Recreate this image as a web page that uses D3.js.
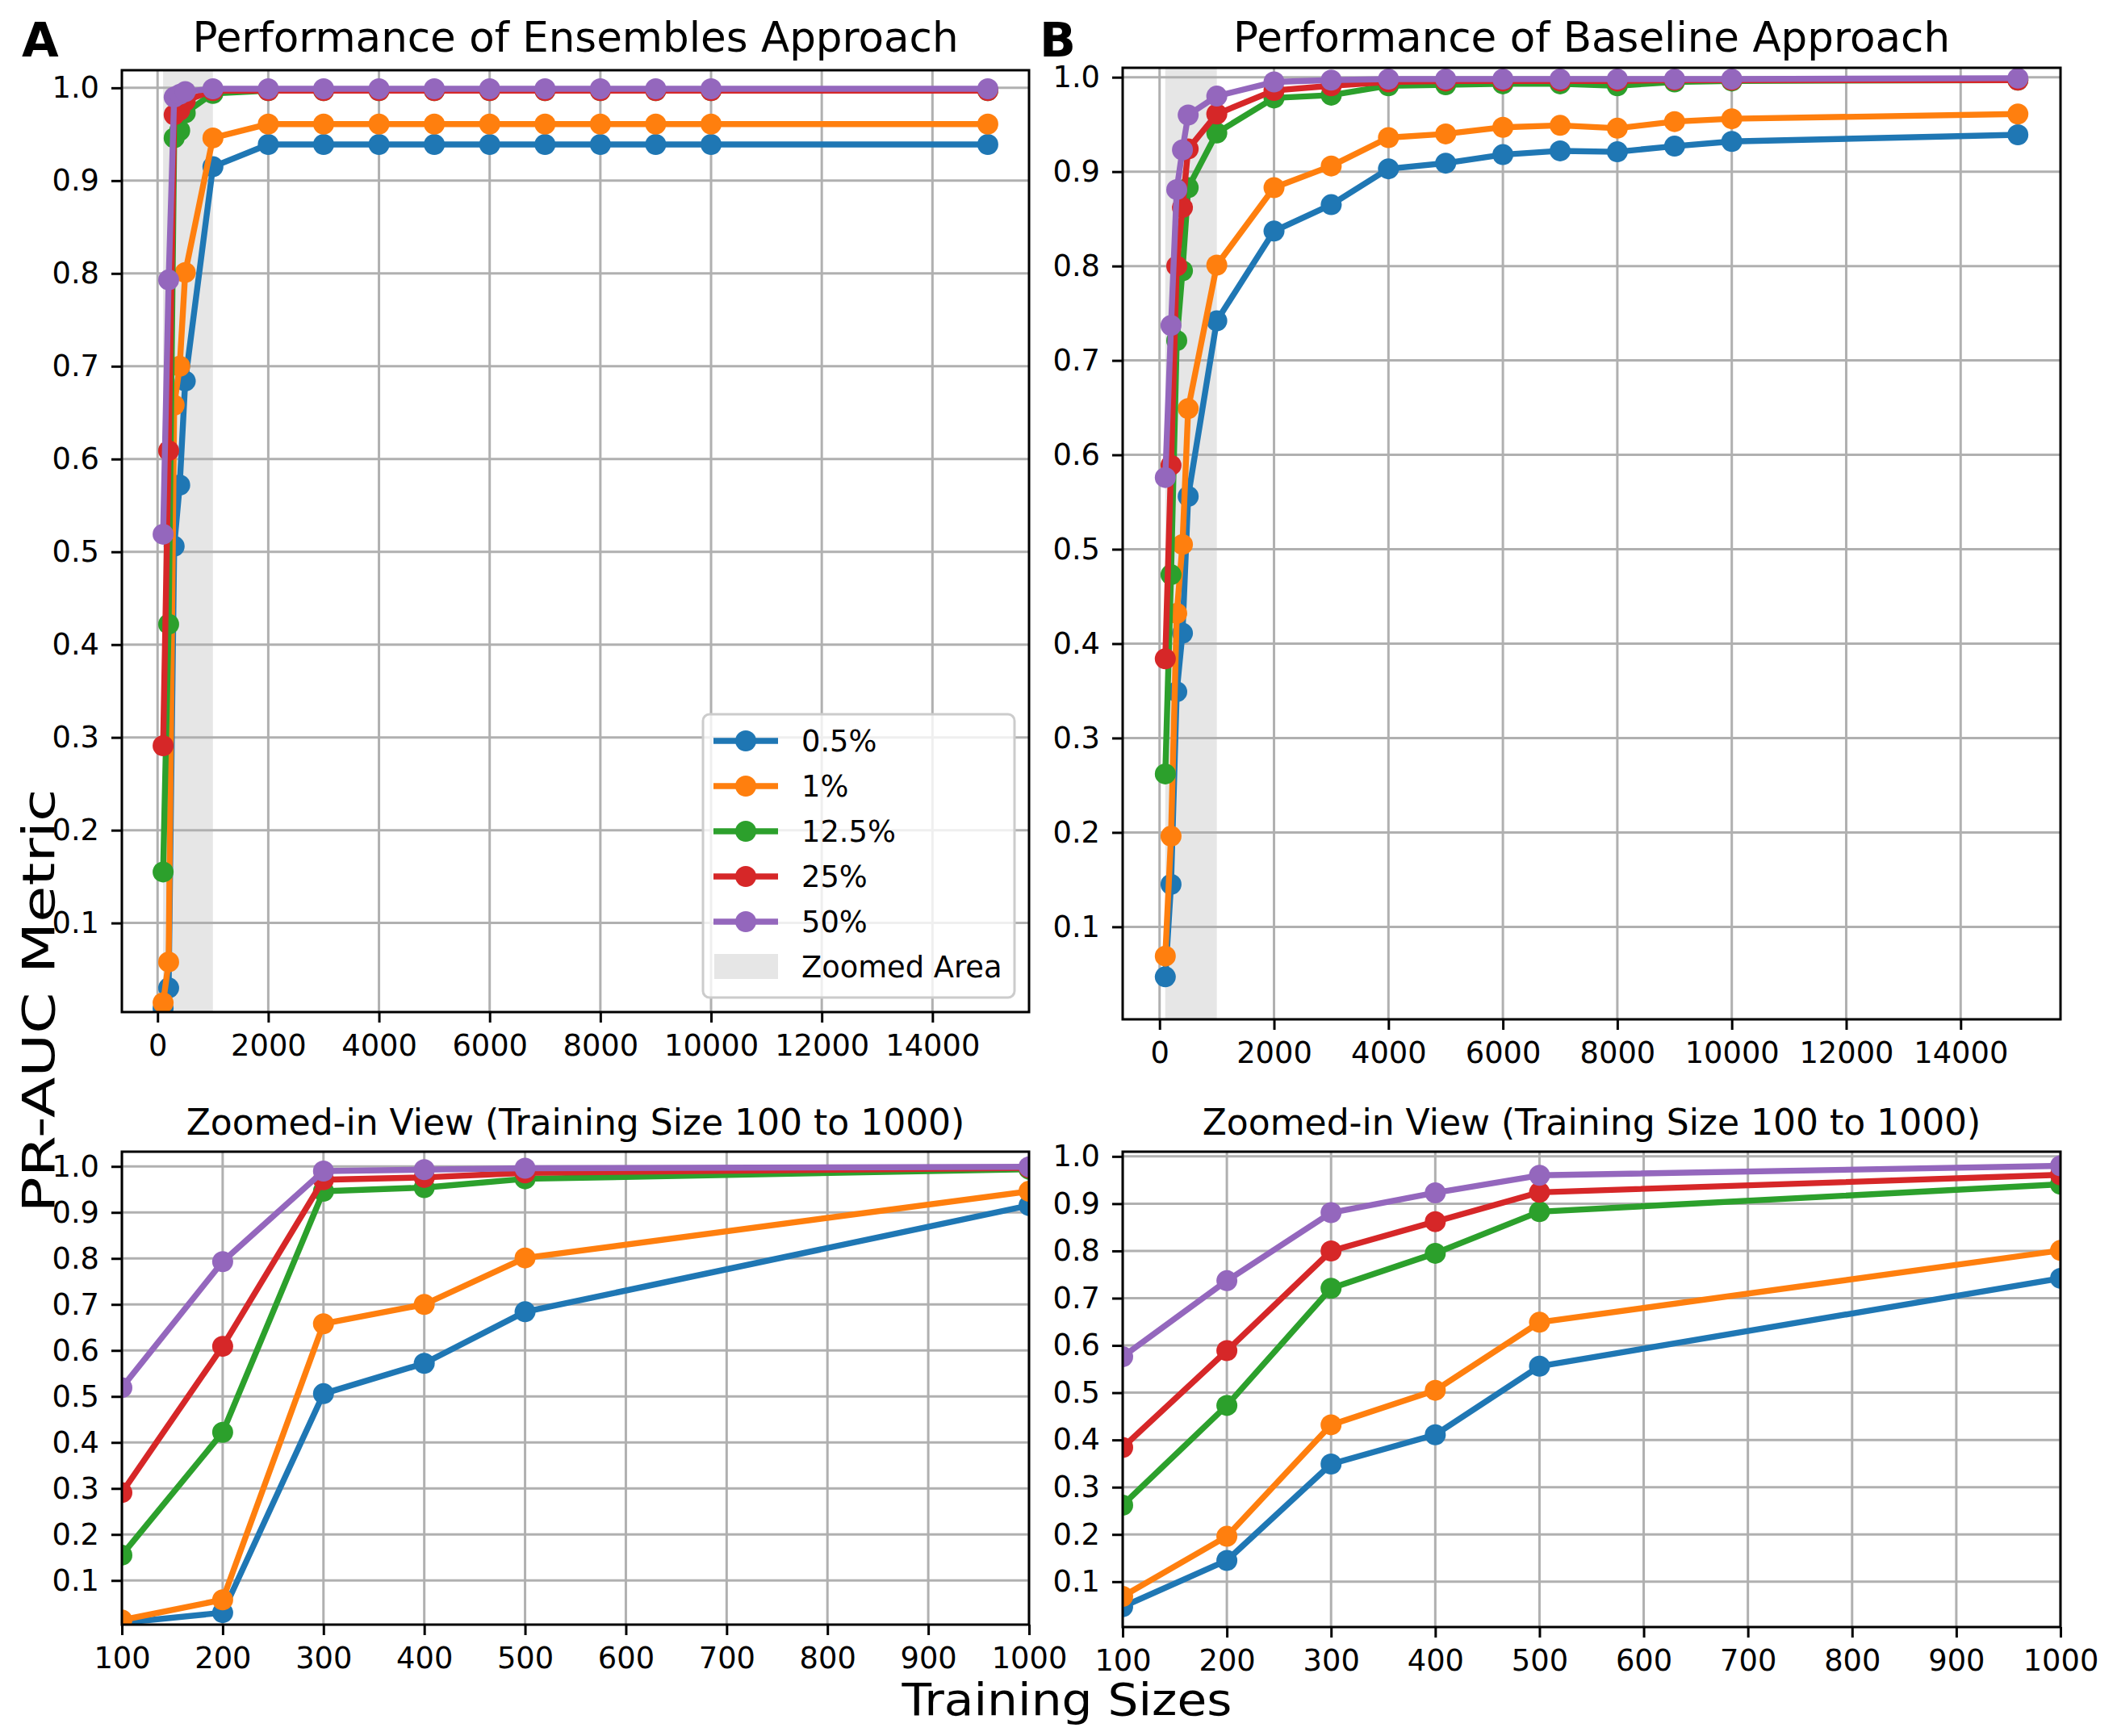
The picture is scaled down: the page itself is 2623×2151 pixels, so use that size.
<!DOCTYPE html>
<html>
<head>
<meta charset="utf-8">
<script src="https://cdn.jsdelivr.net/npm/d3@7"></script>
<style>
  body { margin: 0; background: #fff; }
  svg { display: block; font-family: "DejaVu Sans", sans-serif; background: #fff; }
  .grid line { stroke: #b0b0b0; stroke-width: 3; }
  .axis text { font-size: 36.8px; fill: #000; font-family: "DejaVu Sans", sans-serif; }
  .axis line { stroke: #000; stroke-width: 3; }
  .axis path { display: none; }
  .frame { fill: none; stroke: #000; stroke-width: 3; }
</style>
</head>
<body>
<svg id="chart" width="2623" height="2151"></svg>
<script>
const sizes = [100, 200, 300, 400, 500, 1000, 2000, 3000, 4000, 5000, 6000, 7000, 8000, 9000, 10000, 15000]
const levels = ["0.5%", "1%", "12.5%", "25%", "50%"]
const colors = ["#1f77b4", "#ff7f0e", "#2ca02c", "#d62728", "#9467bd"]

// ensembles approach (panel A)
const ens_05 = [0.008, 0.030, 0.506, 0.572, 0.684, 0.915, 0.939, 0.939, 0.939, 0.939, 0.939, 0.939, 0.939, 0.939, 0.939, 0.939]
const ens_1 = [0.014, 0.058, 0.658, 0.700, 0.801, 0.946, 0.961, 0.961, 0.961, 0.961, 0.961, 0.961, 0.961, 0.961, 0.961, 0.961]
const ens_125 = [0.155, 0.422, 0.946, 0.954, 0.973, 0.994, 0.997, 0.997, 0.997, 0.997, 0.997, 0.997, 0.997, 0.997, 0.997, 0.997]
const ens_25 = [0.291, 0.609, 0.971, 0.976, 0.986, 0.997, 0.997, 0.997, 0.997, 0.997, 0.997, 0.997, 0.997, 0.997, 0.997, 0.997]
const ens_50 = [0.519, 0.793, 0.990, 0.993, 0.996, 0.999, 0.999, 0.999, 0.999, 0.999, 0.999, 0.999, 0.999, 0.999, 0.999, 0.999]

// baseline approach (panel B)
const base_05 = [0.047, 0.145, 0.349, 0.411, 0.556, 0.742, 0.837, 0.865, 0.903, 0.909, 0.918, 0.922, 0.921, 0.927, 0.932, 0.939]
const base_1 = [0.069, 0.196, 0.432, 0.505, 0.649, 0.801, 0.883, 0.906, 0.936, 0.940, 0.947, 0.949, 0.946, 0.953, 0.956, 0.961]
const base_125 = [0.262, 0.473, 0.721, 0.795, 0.883, 0.941, 0.978, 0.981, 0.991, 0.992, 0.993, 0.993, 0.991, 0.995, 0.996, 0.997]
const base_25 = [0.384, 0.589, 0.800, 0.862, 0.924, 0.961, 0.986, 0.991, 0.995, 0.996, 0.996, 0.996, 0.996, 0.997, 0.997, 0.997]
const base_50 = [0.576, 0.737, 0.881, 0.923, 0.960, 0.980, 0.995, 0.997, 0.998, 0.998, 0.998, 0.998, 0.998, 0.998, 0.998, 0.999]

const ensembles = [ens_05, ens_1, ens_125, ens_25, ens_50]
const baseline = [base_05, base_1, base_125, base_25, base_50]

const wide_ticks = [0, 2000, 4000, 6000, 8000, 10000, 12000, 14000]
const zoom_ticks = [100, 200, 300, 400, 500, 600, 700, 800, 900, 1000]
const y_ticks = [0.1, 0.2, 0.3, 0.4, 0.5, 0.6, 0.7, 0.8, 0.9, 1.0]
const zoom_range = [100, 1000]

const svg = d3.select("#chart")

function draw_panel(p) {
  let x = d3.scaleLinear().domain(p.xdom).range([p.x, p.x + p.w])
  let y = d3.scaleLinear().domain(p.ydom).range([p.y + p.h, p.y])
  let g = svg.append("g").attr("id", p.id)

  g.append("clipPath").attr("id", "clip-" + p.id)
    .append("rect").attr("x", p.x).attr("y", p.y).attr("width", p.w).attr("height", p.h)

  if (p.shade) {
    g.append("rect")
      .attr("x", x(zoom_range[0])).attr("y", p.y)
      .attr("width", x(zoom_range[1]) - x(zoom_range[0])).attr("height", p.h)
      .attr("fill", "gray").attr("fill-opacity", 0.2)
  }

  let grid = g.append("g").classed("grid", true).attr("clip-path", "url(#clip-" + p.id + ")")
  grid.selectAll(".gx").data(p.xticks).join("line").classed("gx", true)
    .attr("x1", d => x(d)).attr("x2", d => x(d)).attr("y1", p.y).attr("y2", p.y + p.h)
  grid.selectAll(".gy").data(y_ticks).join("line").classed("gy", true)
    .attr("y1", d => y(d)).attr("y2", d => y(d)).attr("x1", p.x).attr("x2", p.x + p.w)

  let pts = sizes.map((s, i) => i).filter(i => sizes[i] <= p.xmax)
  let line = d3.line().x(i => x(sizes[i]))
  let plot = g.append("g").attr("clip-path", "url(#clip-" + p.id + ")")
  plot.selectAll("g").data(p.series).join("g")
    .each(function(vals, k) {
      let s = d3.select(this)
      s.append("path")
        .attr("d", line.y(i => y(vals[i]))(pts))
        .attr("fill", "none").attr("stroke", colors[k])
        .attr("stroke-width", 7.4).attr("stroke-linejoin", "round")
      s.selectAll("circle").data(pts).join("circle")
        .attr("cx", i => x(sizes[i])).attr("cy", i => y(vals[i]))
        .attr("r", 13).attr("fill", colors[k])
    })

  g.append("rect").classed("frame", true)
    .attr("x", p.x).attr("y", p.y).attr("width", p.w).attr("height", p.h)

  g.append("g").classed("axis", true)
    .attr("transform", "translate(0," + (p.y + p.h) + ")")
    .call(d3.axisBottom(x).tickValues(p.xticks).tickSize(13).tickPadding(15).tickFormat(d3.format("d")))
  g.append("g").classed("axis", true)
    .attr("transform", "translate(" + p.x + ",0)")
    .call(d3.axisLeft(y).tickValues(y_ticks).tickSize(13).tickPadding(15).tickFormat(d3.format(".1f")))

  g.append("text")
    .attr("x", p.x + p.w / 2).attr("y", p.title_y)
    .attr("text-anchor", "middle")
    .style("font-size", p.title_size + "px")
    .text(p.title)

  if (p.letter) {
    g.append("text")
      .attr("x", p.letter_x).attr("y", 70)
      .style("font-size", "59px").style("font-weight", "bold")
      .text(p.letter)
  }
  return {x: x, y: y}
}

function draw_legend(lx, ly) {
  let row_h = 56
  let lg = svg.append("g").attr("transform", "translate(" + lx + "," + ly + ")")
  lg.append("rect")
    .attr("width", 386).attr("height", 351).attr("rx", 8)
    .attr("fill", "#fff").attr("fill-opacity", 0.8)
    .attr("stroke", "#cccccc").attr("stroke-width", 3)
  let rows = lg.selectAll(".row").data(levels).join("g").classed("row", true)
    .attr("transform", (d, i) => "translate(0," + (33 + i * row_h) + ")")
  rows.append("line")
    .attr("x1", 13).attr("x2", 93)
    .attr("stroke", (d, i) => colors[i]).attr("stroke-width", 7.4)
  rows.append("circle").attr("cx", 53).attr("r", 13).attr("fill", (d, i) => colors[i])
  rows.append("text").attr("x", 122).attr("y", 13).style("font-size", "36.8px").text(d => d)

  let last = lg.append("g").attr("transform", "translate(0," + (33 + 5 * row_h) + ")")
  last.append("rect").attr("x", 14).attr("y", -16).attr("width", 79).attr("height", 31)
    .attr("fill", "gray").attr("fill-opacity", 0.2)
  last.append("text").attr("x", 122).attr("y", 13).style("font-size", "36.8px").text("Zoomed Area")
}

draw_panel({id: "ens", x: 151, y: 87, w: 1124, h: 1167, xdom: [-645, 15745], ydom: [0.004, 1.019],
  xticks: wide_ticks, xmax: 15000, series: ensembles, shade: true,
  title: "Performance of Ensembles Approach", title_y: 64, title_size: 51.5, letter: "A", letter_x: 27})
draw_panel({id: "base", x: 1391, y: 84, w: 1162, h: 1179, xdom: [-645, 15745], ydom: [0.002, 1.010],
  xticks: wide_ticks, xmax: 15000, series: baseline, shade: true,
  title: "Performance of Baseline Approach", title_y: 64, title_size: 51.5, letter: "B", letter_x: 1288})
draw_panel({id: "ens-zoom", x: 151, y: 1427, w: 1124, h: 586, xdom: zoom_range, ydom: [0.004, 1.032],
  xticks: zoom_ticks, xmax: 1000, series: ensembles, shade: false,
  title: "Zoomed-in View (Training Size 100 to 1000)", title_y: 1406, title_size: 44})
draw_panel({id: "base-zoom", x: 1391, y: 1427, w: 1162, h: 589, xdom: zoom_range, ydom: [0.004, 1.010],
  xticks: zoom_ticks, xmax: 1000, series: baseline, shade: false,
  title: "Zoomed-in View (Training Size 100 to 1000)", title_y: 1406, title_size: 44})

draw_legend(871, 885)

// the y label in the reference is stretched along its length
svg.append("text")
  .attr("transform", "translate(67,1240) rotate(-90)")
  .attr("text-anchor", "middle")
  .attr("textLength", 525).attr("lengthAdjust", "spacingAndGlyphs")
  .style("font-size", "55px")
  .text("PR-AUC Metric")

svg.append("text")
  .attr("x", 1322).attr("y", 2125)
  .attr("text-anchor", "middle")
  .attr("textLength", 409).attr("lengthAdjust", "spacingAndGlyphs")
  .style("font-size", "56px")
  .text("Training Sizes")
</script>
</body>
</html>
